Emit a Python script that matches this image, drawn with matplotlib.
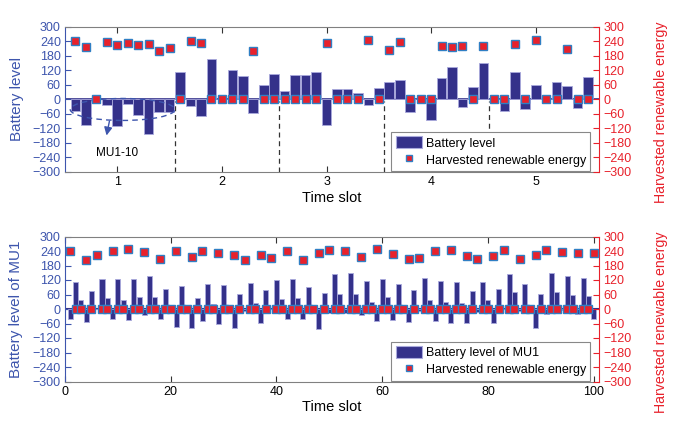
import matplotlib
matplotlib.use("Agg")
import matplotlib.pyplot as plt
import numpy as np
from matplotlib.patches import Ellipse, Patch
from matplotlib.lines import Line2D

plt.rcParams['font.family'] = ['Liberation Sans', 'DejaVu Sans']

# ---------------- data ----------------
# Top chart: 5 time slots x 10 MUs
top_battery = [-47, -107, 0, -24, -111, -19, -65, -143, -51, -51,
               111, -26, -68, 165, 0, 122, 98, -55, 60, 104,
               35, 100, 100, 115, -105, 43, 42, 25, -24, 47,
               73, 79, -51, 0, -86, 90, 132, -30, 50, 150,
               0, -47, 114, -39, 58, 0, 72, 54, -36, 94]
top_harvest = [240, 217, 0, 237, 223, 231, 226, 228, 199, 212,
               0, 242, 231, 0, 0, 0, 0, 201, 0, 0,
               0, 0, 0, 0, 233, 0, 0, 0, 247, 0,
               205, 237, 0, 0, 0, 220, 217, 219, 0, 220,
               0, 0, 230, 0, 247, 0, 0, 210, 0, 0]
top_slots = [1, 2, 3, 4, 5]
mus_per_slot = 10

# Bottom chart: MU1 over 100 time slots
mu1_battery = [-43, 112, 36, -55, 74, 0, 126, 46, -40, 124,
               39, -44, 126, 50, -25, 138, 50, -40, 83, 0,
               -73, 97, 0, -80, 46, -48, 103, 21, -61, 99,
               14, -77, 63, -10, 108, 25, -58, 80, 0, 120,
               41, -41, 124, 46, -41, 91, 0, -83, 66, -18,
               145, 61, -15, 150, 63, -26, 114, 28, -48, 123,
               48, -44, 103, 10, -55, 77, -8, 128, 37, -50,
               116, 30, -58, 112, 26, -59, 73, -14, 112, 37,
               -59, 81, 0, 145, 69, -7, 105, 15, -77, 61,
               -21, 149, 72, -4, 135, 58, -21, 130, 54, -43]
mu1_harvest = [241, 0, 0, 204, 0, 222, 0, 0, 240, 0,
               0, 248, 0, 0, 237, 0, 0, 207, 0, 0,
               241, 0, 0, 214, 0, 241, 0, 0, 230, 0,
               0, 222, 0, 204, 0, 0, 222, 0, 211, 0,
               0, 241, 0, 0, 204, 0, 0, 230, 0, 246,
               0, 0, 241, 0, 0, 214, 0, 0, 248, 0,
               0, 226, 0, 0, 208, 0, 211, 0, 0, 241,
               0, 0, 244, 0, 0, 218, 0, 207, 0, 0,
               219, 0, 243, 0, 0, 208, 0, 0, 223, 0,
               243, 0, 0, 237, 0, 0, 230, 0, 0, 230]
yticks = list(range(-300, 301, 60))

# ---------------- style ----------------
NAVY = '#34318a'
BAR_EDGE = '#a9a9dc'
BLUE = '#3d55ad'
RED = '#e8212b'
MK_EDGE = '#2f7fc4'
GRAY = '#808080'

fig = plt.figure(figsize=(6.79, 4.29), dpi=100)
W, H = 679, 429
LEFT_PX, RIGHT_PX = 65, 599

def make_axes(top_px, bot_px):
    return fig.add_axes([LEFT_PX / W, 1 - bot_px / H, (RIGHT_PX - LEFT_PX) / W, (bot_px - top_px) / H])

def style(ax, ax2, ylabel):
    for a in (ax, ax2):
        a.set_ylim(-300, 300)
        a.set_yticks(yticks)
    ax.tick_params(axis='y', direction='in', colors=BLUE, labelsize=9, length=4, pad=3)
    ax2.tick_params(axis='y', direction='in', colors=RED, labelsize=9, length=4, pad=3)
    ax.tick_params(axis='x', direction='in', top=True, labelsize=9, length=4, pad=3, color='#333333')
    ax.spines['left'].set_color(BLUE)
    ax.spines['right'].set_visible(False)
    ax.spines['top'].set_color(GRAY)
    ax.spines['bottom'].set_color(GRAY)
    ax2.spines['right'].set_color(RED)
    for s in ('left', 'top', 'bottom'):
        ax2.spines[s].set_visible(False)
    span = RIGHT_PX - LEFT_PX
    ax.set_ylabel(ylabel, color=BLUE, fontsize=11)
    ax.yaxis.set_label_coords((23.5 - LEFT_PX) / span, 0.5)
    ax2.set_ylabel('Harvested renewable energy', color=RED, fontsize=10.2, rotation=90)
    ax2.yaxis.set_label_coords((654 - LEFT_PX) / span, 0.41)
    ax.set_xlabel('Time slot', fontsize=10.5, labelpad=2)

def legend(ax, label):
    handles = [Patch(facecolor=NAVY, edgecolor=BAR_EDGE, lw=0.8),
               Line2D([], [], ls='none', marker='s', ms=5, mfc=RED, mec=MK_EDGE, mew=1)]
    leg = ax.legend(handles, [label, 'Harvested renewable energy'], loc='lower right',
                    bbox_to_anchor=(0.984, 0.006), borderaxespad=0, fontsize=9,
                    fancybox=False, framealpha=1, edgecolor='#888888',
                    handlelength=2.1, handleheight=1.1, handletextpad=0.3,
                    labelspacing=0.3, borderpad=0.35)
    leg.get_frame().set_linewidth(0.8)
    leg.set_zorder(10)

# ---------------- top chart ----------------
ax = make_axes(26.8, 171.8)
ax2 = ax.twinx()
n = len(top_battery)
xpos = np.array([s - 0.4 + 0.1 * k for s in top_slots for k in range(mus_per_slot)])[:n]
ax.bar(xpos, top_battery, width=0.092, color=NAVY, edgecolor=BAR_EDGE, linewidth=0.6, zorder=2)
ax.axhline(0, color=NAVY, lw=1.2, zorder=1)
ax2.plot(xpos, top_harvest, ls='none', marker='s', ms=5.3, mfc=RED, mec=MK_EDGE, mew=1, zorder=3)
for s in top_slots[:-1]:
    ax.plot([s + 0.55, s + 0.55], [-300, -8], ls=(0, (4, 3)), color='#333333', lw=0.9, zorder=1)
ax.set_xlim(0.5, 5.605)
ax.set_xticks(top_slots)
ax.add_patch(Ellipse((1.05, -42), 1.0, 91, fill=False, ls=(0, (4, 3)), ec=BLUE, lw=1, zorder=4))
ax.annotate('', xy=(0.892, -161), xytext=(0.93, -79),
            arrowprops=dict(arrowstyle='-|>', color=BLUE, lw=1, mutation_scale=12), zorder=4)
ax.text(0.995, -222, 'MU1-10', fontsize=8.5, ha='center', va='center')
style(ax, ax2, 'Battery level')
ax2.set_zorder(ax.get_zorder() + 1)
legend(ax2, 'Battery level')

# ---------------- bottom chart ----------------
bx = make_axes(236.5, 381.5)
bx2 = bx.twinx()
t = np.arange(1, len(mu1_battery) + 1)
bx.bar(t, mu1_battery, width=0.95, color=NAVY, edgecolor=BAR_EDGE, linewidth=0.6, zorder=2)
bx.axhline(0, color=NAVY, lw=1.5, zorder=1)
bx2.plot(t, mu1_harvest, ls='none', marker='s', ms=5.3, mfc=RED, mec=MK_EDGE, mew=1, zorder=3)
bx.set_xlim(0, 101)
bx.set_xticks(range(0, 101, 20))
style(bx, bx2, 'Battery level of MU1')
legend(bx2, 'Battery level of MU1')

fig.savefig('out.png', dpi=100)
